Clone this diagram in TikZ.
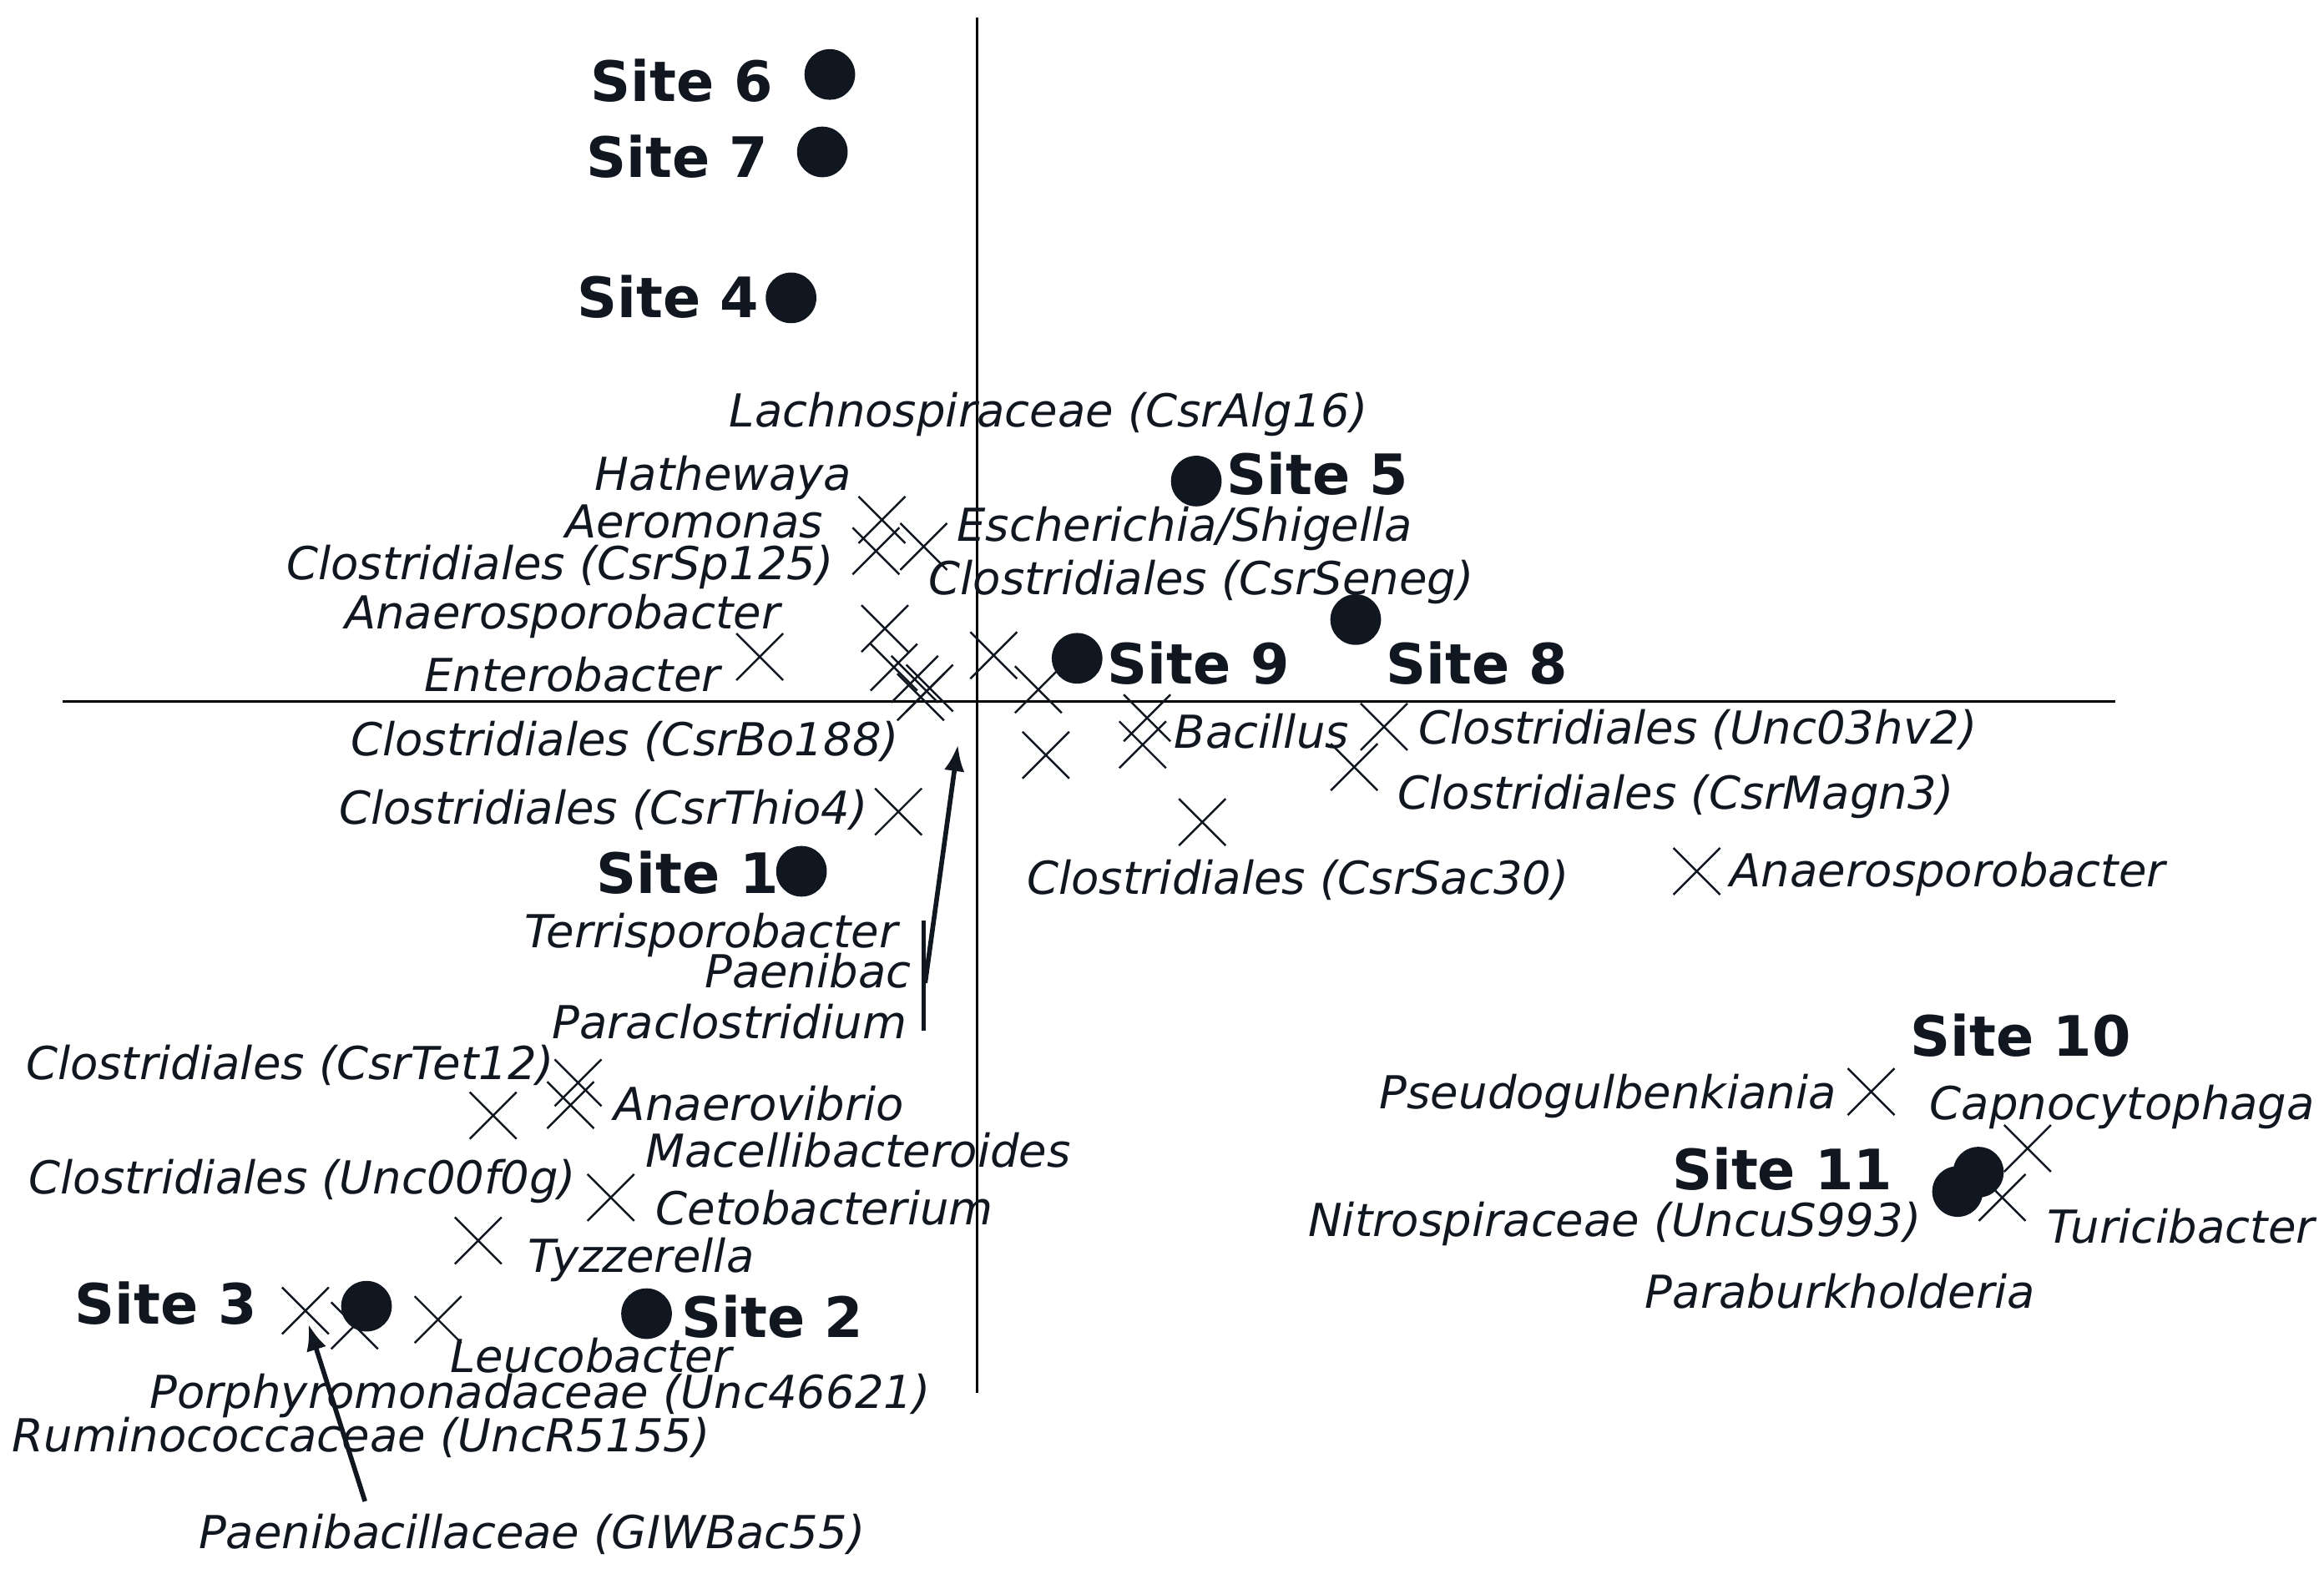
\documentclass[tikz,border=0pt]{standalone}
\usepackage{fontspec}
\setmainfont{DejaVu Sans}
\usetikzlibrary{shapes.misc,arrows.meta}
\definecolor{ink}{HTML}{111720}
\begin{document}
\begin{tikzpicture}[x=0.017846cm,y=-0.017846cm,
 dot/.style={circle,fill=ink,draw=none,minimum size=34*0.017846cm,inner sep=0},
 cr/.style={cross out,draw=ink,line width=0.7pt,minimum size=30*0.017846cm,inner sep=0},
 site/.style={font=\fontsize{19}{19}\selectfont\bfseries,text=ink,inner sep=0},
 lb/.style={font=\fontsize{15.5}{16}\selectfont\itshape,text=ink,inner sep=0},
 ax/.style={draw=black,line width=0.8pt}]
\useasboundingbox (0,0) rectangle (1560,1053);
\coordinate (vt) at (656,12); \coordinate (vb) at (656,935);
\coordinate (hl) at (42,471); \coordinate (hr) at (1420,471);
\draw[ax] (vt)--(vb); \draw[ax] (hl)--(hr);
% dots
\foreach \n/\p in {d6/{(557,50)},d7/{(552,102)},d4/{(531,200)},d5/{(803,323)},d8/{(910,416)},d9/{(723,442)},d1/{(538,585)},d3/{(246,877)},d2/{(434,882)},d10/{(1328,787)},d11/{(1314,800)}}
 \node[dot] (\n) at \p {};
% site labels
\node[site,anchor=east] (s6) at (519,54) {Site 6};
\node[site,anchor=east] (s7) at (516,105) {Site 7};
\node[site,anchor=east] (s4) at (510,199) {Site 4};
\node[site,anchor=west] (s5) at (823,318) {Site 5};
\node[site,anchor=west] (s9) at (743,445) {Site 9};
\node[site,anchor=west] (s8) at (930,445) {Site 8};
\node[site,anchor=east] (s1) at (523,586) {Site 1};
\node[site,anchor=west] (s3) at (50,875) {Site 3};
\node[site,anchor=west] (s2) at (457,884) {Site 2};
\node[site,anchor=west] (s10) at (1282,695) {Site 10};
\node[site,anchor=west] (s11) at (1122,785) {Site 11};
% crosses
\foreach \p [count=\i] in {(592,349),(588,370),(620,367),(594,422),(510,441),(600,448),(614,456),(624,462),(618,468),(667,440),(697,463),(702,507),(770,482),(767,500),(807,552),(929,488),(909,515),(1139,585),(603,545),(388,727),(383,742),(331,749),(410,804),(321,833),(205,880),(238,890),(294,886),(1256,733),(1361,771),(1344,804)}
 \node[cr] (c\i) at \p {};
% labels
\node[lb] (l1) at (704,278) {Lachnospiraceae (CsrAlg16)};
\node[lb,anchor=east] (l2) at (572,321) {Hathewaya};
\node[lb,anchor=east] (l3) at (553,350) {Aeromonas};
\node[lb,anchor=west] (l4) at (642,355) {Escherichia/Shigella};
\node[lb,anchor=east] (l5) at (560,381) {Clostridiales (CsrSp125)};
\node[lb,anchor=west] (l6) at (623,391) {Clostridiales (CsrSeneg)};
\node[lb,anchor=east] (l7) at (524,414) {Anaerosporobacter};
\node[lb,anchor=east] (l8) at (484,453) {Enterobacter};
\node[lb,anchor=east] (l9) at (604,498) {Clostridiales (CsrBo188)};
\node[lb,anchor=west] (l10) at (788,491) {Bacillus};
\node[lb,anchor=west] (l11) at (952,490) {Clostridiales (Unc03hv2)};
\node[lb,anchor=west] (l12) at (938,535) {Clostridiales (CsrMagn3)};
\node[lb,anchor=east] (l13) at (583,544) {Clostridiales (CsrThio4)};
\node[lb,anchor=west] (l14) at (689,591) {Clostridiales (CsrSac30)};
\node[lb,anchor=west] (l15) at (1161,587) {Anaerosporobacter};
\node[lb,anchor=east] (l16) at (603,628) {Terrisporobacter};
\node[lb,anchor=east] (l17) at (612,652) {Paenibac};
\node[lb,anchor=east] (l18) at (609,686) {Paraclostridium};
\node[lb,anchor=west] (l19) at (17,715) {Clostridiales (CsrTet12)};
\node[lb,anchor=west] (l20) at (412,741) {Anaerovibrio};
\node[lb,anchor=west] (l21) at (433,772) {Macellibacteroides};
\node[lb,anchor=west] (l22) at (19,793) {Clostridiales (Unc00f0g)};
\node[lb,anchor=west] (l23) at (440,811) {Cetobacterium};
\node[lb,anchor=west] (l24) at (354,846) {Tyzzerella};
\node[lb,anchor=west] (l25) at (302,910) {Leucobacter};
\node[lb,anchor=west] (l26) at (100,937) {Porphyromonadaceae (Unc46621)};
\node[lb,anchor=west] (l27) at (8,965) {Ruminococcaceae (UncR5155)};
\node[lb,anchor=west] (l28) at (133,1030) {Paenibacillaceae (GIWBac55)};
\node[lb,anchor=east] (l29) at (1233,736) {Pseudogulbenkiania};
\node[lb,anchor=west] (l30) at (1295,743) {Capnocytophaga};
\node[lb,anchor=east] (l31) at (1290,822) {Nitrospiraceae (UncuS993)};
\node[lb,anchor=west] (l32) at (1374,823) {Turicibacter};
\node[lb,anchor=west] (l33) at (1104,867) {Paraburkholderia};
% arrows
\coordinate (b1) at (620,618); \coordinate (b2) at (620,692);
\coordinate (a1s) at (621,660); \coordinate (a1e) at (643,500);
\coordinate (a2s) at (245,1008); \coordinate (a2e) at (207,889);
\draw[ink,line width=1.6pt] (b1)--(b2);
\draw[ink,line width=1.6pt,-{Latex[length=9pt,width=7pt]}] (a1s)--(a1e);
\draw[ink,line width=1.6pt,-{Latex[length=9pt,width=7pt]}] (a2s)--(a2e);
\end{tikzpicture}
\end{document}
